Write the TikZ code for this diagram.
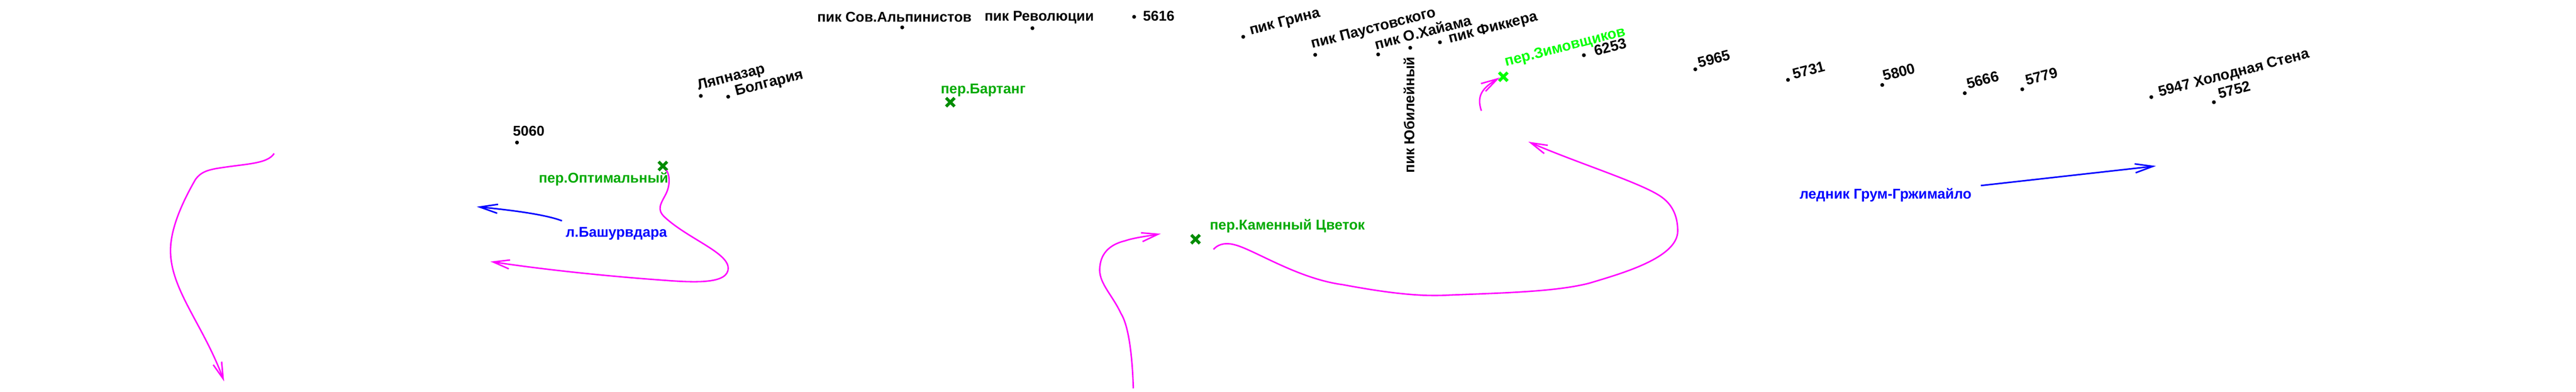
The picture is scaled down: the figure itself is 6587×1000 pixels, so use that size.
\documentclass[tikz,border=0pt]{standalone}
\usepackage{fontspec}
\setmainfont{Liberation Sans}
\usetikzlibrary{arrows.meta,
                shapes.misc}
\definecolor{routepink}{RGB}{255,0,255}
\definecolor{passgreen}{RGB}{0,170,0}
\definecolor{markgreen}{RGB}{0,140,0}
\definecolor{brightgreen}{RGB}{0,255,0}
\tikzset{peak/.style =
   {inner sep=0pt,
    anchor=base west,
    font=\fontsize{10.3}{12}\selectfont\bfseries}}
\tikzset{slantpeak/.style =
   {peak,
    font=\fontsize{10.7}{12}\selectfont\bfseries,
    rotate=14.5}}
\tikzset{passname/.style =
   {peak,
    text=passgreen}}
\tikzset{rivername/.style =
   {peak,
    text=blue}}
\tikzset{dot/.style =
   {circle,
    fill=black,
    inner sep=0pt,
    minimum size=2.8pt}}
\tikzset{passmark/.style =
   {cross out,
    draw=markgreen,
    line width=2.2pt,
    inner sep=0pt,
    minimum size=4pt}}
\tikzset{route/.style =
   {draw=routepink,
    line width=1.05pt,
    -{Straight Barb[length=12pt,width=6.5pt]}}}
\tikzset{flow/.style =
   {draw=blue,
    line width=1.1pt,
    -{Straight Barb[length=13pt,width=6.5pt]}}}

\begin{document}
\begin{tikzpicture}[x=0.01cm,y=-0.01cm]

    \useasboundingbox (0,0) rectangle (6587,1000);

    \node [dot] (d5060) at (1322,364) {};
    \node [peak] (n5060) at (1311,347) {5060};

    \node [dot] (dlyap) at (1792,245) {};
    \node [slantpeak] (nlyap) at (1786,230) {Ляпназар};
    \node [dot] (dbolg) at (1862,247) {};
    \node [slantpeak] (nbolg) at (1883,245) {Болгария};

    \node [peak] (nsov) at (2089,56) {пик Сов.Альпинистов};
    \node [dot] (dsov) at (2307,70) {};
    \node [peak] (nrev) at (2517,54) {пик Революции};
    \node [dot] (drev) at (2640,72) {};
    \node [dot] (d5616) at (2900,43) {};
    \node [peak] (n5616) at (2922,54) {5616};

    \node [dot] (dgrin) at (3179,94) {};
    \node [slantpeak] (ngrin) at (3198,89) {пик Грина};
    \node [dot] (dpaust) at (3363,140) {};
    \node [slantpeak] (npaust) at (3356,124) {пик Паустовского};
    \node [dot] (dhay) at (3524,139) {};
    \node [slantpeak] (nhay) at (3519,127) {пик О.Хайама};
    \node [dot] (dyub) at (3606,122) {};
    \node [peak, font=\fontsize{10.4}{12}\selectfont\bfseries, rotate=90] (nyub) at (3617,443) {пик Юбилейный};
    \node [dot] (dfik) at (3682,108) {};
    \node [slantpeak] (nfik) at (3707,110) {пик Фиккера};

    \node [dot] (d6253) at (4050,141) {};
    \node [slantpeak] (n6253) at (4080,143) {6253};
    \node [dot] (d5965) at (4335,177) {};
    \node [slantpeak] (n5965) at (4345,173) {5965};
    \node [dot] (d5731) at (4572,204) {};
    \node [slantpeak] (n5731) at (4587,202) {5731};
    \node [dot] (d5800) at (4813,217) {};
    \node [slantpeak] (n5800) at (4818,207) {5800};
    \node [dot] (d5666) at (5024,238) {};
    \node [slantpeak] (n5666) at (5032,227) {5666};
    \node [dot] (d5779) at (5171,228) {};
    \node [slantpeak] (n5779) at (5182,218) {5779};
    \node [dot] (d5947) at (5501,248) {};
    \node [slantpeak] (n5947) at (5522,247) {5947 Холодная Стена};
    \node [dot] (d5752) at (5661,261) {};
    \node [slantpeak] (n5752) at (5675,253) {5752};

    \node [passmark] (xopt) at (1695,424) {};
    \node [passname] (nopt) at (1377,467) {пер.Оптимальный};
    \node [passmark] (xbart) at (2430,261) {};
    \node [passname] (nbart) at (2405,239) {пер.Бартанг};
    \node [passmark] (xkam) at (3057,611) {};
    \node [passname] (nkam) at (3093,587) {пер.Каменный Цветок};
    \node [passmark, draw=brightgreen] (xzim) at (3844,196) {};
    \node [slantpeak, text=brightgreen] (nzim) at (3851,170) {пер.Зимовщиков};

    \node [rivername] (nbash) at (1446,605) {л.Башурвдара};
    \node [rivername] (ngrum) at (4601,508) {ледник Грум-Гржимайло};

    \coordinate (bashstart) at (1437,564);
    \coordinate (bashend) at (1219,528);
    \coordinate (grumstart) at (5065,474);
    \coordinate (grumend) at (5513,424);

    \coordinate (westtop) at (701,392);
    \coordinate (westend) at (573,974);
    \coordinate (optend) at (1254,668);
    \coordinate (southstart) at (2898,992);
    \coordinate (southend) at (2968,597);
    \coordinate (kamstart) at (3103,637);
    \coordinate (kamend) at (3908,362);
    \coordinate (zimstart) at (3788,283);
    \coordinate (zimend) at (3835,198);

    \draw [flow] (bashstart) .. controls (1390,546) and (1290,535) .. (bashend);
    \draw [flow] (grumstart) -- (grumend);

    \draw [route] (westtop) .. controls (683,420) and (625,418) .. (550,431)
        .. controls (525,436) and (512,442) .. (500,458)
        .. controls (470,510) and (436,580) .. (436,640)
        .. controls (436,740) and (520,830) .. (westend);
    \draw [route] (xopt) .. controls (1712,445) and (1715,470) .. (1703,495)
        .. controls (1690,520) and (1678,535) .. (1700,555)
        .. controls (1760,610) and (1862,645) .. (1862,685)
        .. controls (1862,725) and (1780,722) .. (1700,716)
        .. controls (1560,706) and (1400,690) .. (optend);
    \draw [route] (southstart) .. controls (2895,900) and (2885,830) .. (2866,800)
        .. controls (2845,755) and (2812,725) .. (2812,690)
        .. controls (2812,650) and (2835,625) .. (2877,615)
        .. controls (2900,607) and (2935,603) .. (southend);
    \draw [route] (kamstart) .. controls (3118,620) and (3140,620) .. (3160,626)
        .. controls (3210,640) and (3320,712) .. (3433,727)
        .. controls (3530,745) and (3620,758) .. (3698,754)
        .. controls (3850,748) and (3980,745) .. (4065,723)
        .. controls (4140,700) and (4290,660) .. (4290,590)
        .. controls (4290,550) and (4275,520) .. (4244,500)
        .. controls (4190,465) and (4030,415) .. (kamend);
    \draw [route] (zimstart) .. controls (3775,245) and (3790,225) .. (zimend);

\end{tikzpicture}
\end{document}
